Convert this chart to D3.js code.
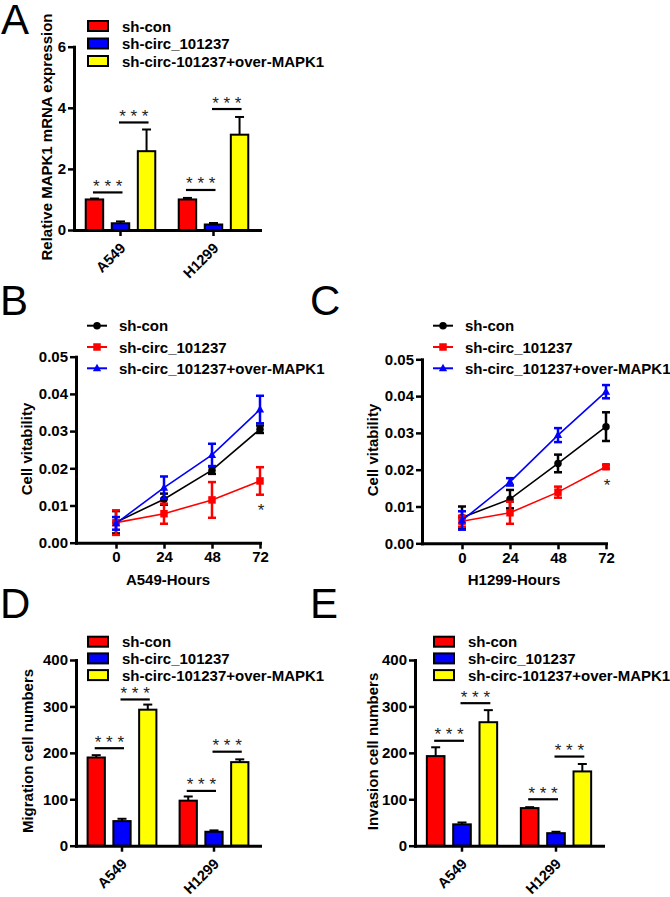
<!DOCTYPE html>
<html>
<head>
<meta charset="utf-8">
<script src="https://cdn.jsdelivr.net/npm/d3@7"></script>
<style>
  html, body { margin: 0; padding: 0; background: #fff; }
  svg { display: block; }
  text { font-family: "Liberation Sans", Arial, Helvetica, sans-serif; }
</style>
</head>
<body>
<svg id="chart" width="670" height="897"></svg>
<script>
// ---------------- DATA ----------------
const cellLines = ["A549", "H1299"];
const barSeries = ["sh-con", "sh-circ_101237", "sh-circ-101237+over-MAPK1"];
const lineSeries = ["sh-con", "sh-circ_101237", "sh-circ_101237+over-MAPK1"];
const hours = [0, 24, 48, 72];

// Panel A: relative MAPK1 mRNA expression  [cell line][series]
const mrnaMean = [[1.00, 0.22, 2.58], [1.00, 0.18, 3.12]];
const mrnaErr  = [[0.03, 0.06, 0.71], [0.05, 0.05, 0.58]];
const mrnaSigLevel = [[1.23, 3.52], [1.31, 3.96]];
const mrnaTicks = [0, 2, 4, 6];

// Panel B: A549 cell vitability
const a549Mean = [
  [0.0055, 0.0117, 0.0195, 0.0305],
  [0.0054, 0.0078, 0.0115, 0.0166],
  [0.0052, 0.0148, 0.0236, 0.0358]
];
const a549Err = [
  [0.0030, 0.0015, 0.0010, 0.0010],
  [0.0033, 0.0027, 0.0048, 0.0037],
  [0.0017, 0.0030, 0.0030, 0.0037]
];
// Panel C: H1299 cell vitability
const h1299Mean = [
  [0.0070, 0.0120, 0.0217, 0.0317],
  [0.0060, 0.0083, 0.0139, 0.0208],
  [0.0062, 0.0167, 0.0294, 0.0412]
];
const h1299Err = [
  [0.0030, 0.0025, 0.0024, 0.0039],
  [0.0015, 0.0030, 0.0015, 0.0005],
  [0.0025, 0.0010, 0.0019, 0.0018]
];
const vitTicks = [0, 0.01, 0.02, 0.03, 0.04, 0.05];

// Panel D: migration cell numbers
const migMean = [[190, 53, 293], [97, 30, 180]];
const migErr  = [[5, 5, 11], [9, 3, 6]];
const migSigLevel = [[210, 315], [118, 202.5]];
// Panel E: invasion cell numbers
const invMean = [[193, 46, 266], [81, 27, 160]];
const invErr  = [[19, 4, 26], [2, 3, 16]];
const invSigLevel = [[226, 307], [100, 192]];
const countTicks = [0, 100, 200, 300, 400];

// ---------------- STYLE ----------------
const barColors = ["#ff0000", "#0000ff", "#ffff00"];
const lineColors = ["#000000", "#ff0000", "#0000ff"];
const FONT = "'Liberation Sans', Arial, Helvetica, sans-serif";

const svg = d3.select("#chart");

function styleAxis(g) {
  g.select(".domain").attr("stroke", "#000").attr("stroke-width", 3).attr("stroke-linecap", "square");
  g.selectAll(".tick line").attr("stroke", "#000").attr("stroke-width", 2.5);
  g.selectAll(".tick text").attr("font-family", FONT).attr("font-weight", "bold")
    .attr("font-size", 15).attr("fill", "#000");
}

function panelLetter(t, x, y) {
  svg.append("text").attr("x", x).attr("y", y).attr("font-size", 42)
    .attr("font-family", FONT).attr("fill", "#000").text(t);
}

function yTitle(t, x, y) {
  svg.append("text").attr("transform", `translate(${x},${y}) rotate(-90)`)
    .attr("text-anchor", "middle").attr("font-size", 15).attr("font-weight", "bold")
    .attr("font-family", FONT).attr("fill", "#000").text(t);
}

function barPanel(cfg, means, errs, sigs, ticks) {
  const g = svg.append("g");
  const y = d3.scaleLinear().domain([0, ticks[ticks.length - 1]]).range([cfg.y0, cfg.yTop]);
  const xg = d3.scaleBand().domain(cellLines).range([cfg.x0, cfg.x1]);
  const xi = d3.scaleBand().domain(barSeries).range([0, xg.bandwidth()])
    .paddingInner(0.33).paddingOuter(0.45);
  const cx = (ci, si) => xg(cellLines[ci]) + xi(barSeries[si]) + xi.bandwidth() / 2;

  cellLines.forEach((cl, i) => {
    barSeries.forEach((s, j) => {
      const v = means[i][j], e = errs[i][j];
      const c = cx(i, j);
      g.append("line").attr("x1", c).attr("x2", c).attr("y1", y(v)).attr("y2", y(v + e))
        .attr("stroke", "#000").attr("stroke-width", 2);
      g.append("line").attr("x1", c - 4.5).attr("x2", c + 4.5).attr("y1", y(v + e)).attr("y2", y(v + e))
        .attr("stroke", "#000").attr("stroke-width", 2);
      g.append("rect").attr("x", xg(cl) + xi(s)).attr("y", y(v))
        .attr("width", xi.bandwidth()).attr("height", y(0) - y(v))
        .attr("fill", barColors[j]).attr("stroke", "#000").attr("stroke-width", 2);
    });
    [[0, 1], [1, 2]].forEach((pair, k) => {
      const lv = y(sigs[i][k]);
      const xa = cx(i, pair[0]) - 1.5, xb = cx(i, pair[1]) + 2;
      g.append("line").attr("x1", xa).attr("x2", xb).attr("y1", lv).attr("y2", lv)
        .attr("stroke", "#000").attr("stroke-width", 2.2);
      g.append("text").attr("x", (xa + xb) / 2).attr("y", lv - 0.5).attr("text-anchor", "middle")
        .attr("font-size", 17).attr("font-family", FONT).attr("fill", "#222")
        .text("* * *");
    });
  });

  const ya = g.append("g").attr("transform", `translate(${cfg.x0},0)`)
    .call(d3.axisLeft(y).tickValues(ticks).tickSize(6).tickSizeOuter(0).tickPadding(2).tickFormat(d3.format("d")));
  styleAxis(ya);
  const xa = g.append("g").attr("transform", `translate(0,${cfg.y0})`)
    .call(d3.axisBottom(xg).tickSize(6).tickSizeOuter(0));
  styleAxis(xa);
  xa.selectAll(".tick text")
    .attr("text-anchor", "end")
    .attr("font-size", 14.5)
    .attr("transform", "translate(6,19) rotate(-45)")
    .attr("y", 0).attr("dy", 0).attr("x", 0);

  barSeries.forEach((s, j) => {
    const ry = cfg.legY + j * cfg.legStep;
    g.append("rect").attr("x", cfg.legX).attr("y", ry - 5).attr("width", 20).attr("height", 10)
      .attr("fill", barColors[j]).attr("stroke", "#000").attr("stroke-width", 2);
    g.append("text").attr("x", cfg.legX + 34).attr("y", ry + 5.5)
      .attr("font-size", 15).attr("font-weight", "bold").attr("font-family", FONT)
      .attr("fill", "#000").text(s);
  });
}

function marker(g, j, x, y, size) {
  if (j === 0) {
    g.append("circle").attr("cx", x).attr("cy", y).attr("r", size / 2).attr("fill", lineColors[j]);
  } else if (j === 1) {
    g.append("rect").attr("x", x - size / 2).attr("y", y - size / 2).attr("width", size).attr("height", size)
      .attr("fill", lineColors[j]);
  } else {
    const h = size;
    g.append("path").attr("d", `M${x},${y - h * 0.6}L${x + h * 0.55},${y + h * 0.4}L${x - h * 0.55},${y + h * 0.4}Z`)
      .attr("fill", lineColors[j]);
  }
}

function linePanel(cfg, means, errs) {
  const g = svg.append("g");
  const x = d3.scaleLinear().domain([-20, 72]).range([cfg.x0, cfg.x1]);
  const y = d3.scaleLinear().domain([0, 0.05]).range([cfg.y0, cfg.yTop]);

  lineSeries.forEach((s, j) => {
    const pts = hours.map((h, k) => [h, means[j][k], errs[j][k]]);
    g.append("path").datum(pts)
      .attr("d", d3.line().x(d => x(d[0])).y(d => y(d[1])))
      .attr("fill", "none").attr("stroke", lineColors[j]).attr("stroke-width", 1.6);
    pts.forEach(d => {
      const px = x(d[0]);
      g.append("line").attr("x1", px).attr("x2", px).attr("y1", y(d[1] - d[2])).attr("y2", y(d[1] + d[2]))
        .attr("stroke", lineColors[j]).attr("stroke-width", 2.5);
      [d[1] - d[2], d[1] + d[2]].forEach(v => {
        g.append("line").attr("x1", px - 4).attr("x2", px + 4).attr("y1", y(v)).attr("y2", y(v))
          .attr("stroke", lineColors[j]).attr("stroke-width", 2.5);
      });
      marker(g, j, px, y(d[1]), 7.5);
    });
  });

  const ya = g.append("g").attr("transform", `translate(${cfg.x0},0)`)
    .call(d3.axisLeft(y).tickValues(vitTicks).tickSize(6).tickSizeOuter(0).tickPadding(2).tickFormat(d3.format(".2f")));
  styleAxis(ya);
  const xa = g.append("g").attr("transform", `translate(0,${cfg.y0})`)
    .call(d3.axisBottom(x).tickValues(hours).tickSize(6).tickSizeOuter(0).tickPadding(3).tickFormat(d3.format("d")));
  styleAxis(xa);

  g.append("text").attr("x", x(72) + 1).attr("y", cfg.starY).attr("text-anchor", "middle")
    .attr("font-size", 17).attr("font-family", FONT).attr("fill", "#222").text("*");

  svg.append("text").attr("x", cfg.titleX).attr("y", cfg.titleY).attr("text-anchor", "middle")
    .attr("font-size", 15).attr("font-weight", "bold").attr("font-family", FONT).attr("fill", "#000")
    .text(cfg.title);

  lineSeries.forEach((s, j) => {
    const ry = cfg.legY + j * cfg.legStep;
    g.append("line").attr("x1", cfg.legX).attr("x2", cfg.legX + 20).attr("y1", ry).attr("y2", ry)
      .attr("stroke", lineColors[j]).attr("stroke-width", 2);
    marker(g, j, cfg.legX + 10, ry, 7.5);
    g.append("text").attr("x", cfg.legX + 32).attr("y", ry + 5.5)
      .attr("font-size", 15).attr("font-weight", "bold").attr("font-family", FONT)
      .attr("fill", "#000").text(s);
  });
}

// ---------------- PANELS ----------------
panelLetter("A", 1, 34);
barPanel({x0: 74, x1: 260, y0: 230, yTop: 46.7, legX: 88, legY: 26, legStep: 17.5},
  mrnaMean, mrnaErr, mrnaSigLevel, mrnaTicks);
yTitle("Relative MAPK1 mRNA expression", 51.5, 137);

panelLetter("B", 0, 315);
linePanel({x0: 76, x1: 260, y0: 542.7, yTop: 356.7, legX: 87, legY: 325.7, legStep: 21.3,
  starY: 515.5, title: "A549-Hours", titleX: 168, titleY: 585}, a549Mean, a549Err);
yTitle("Cell vitability", 32, 449);

panelLetter("C", 310, 315);
linePanel({x0: 422, x1: 606, y0: 543.3, yTop: 359.3, legX: 433, legY: 325.7, legStep: 21.3,
  starY: 491, title: "H1299-Hours", titleX: 514, titleY: 585}, h1299Mean, h1299Err);
yTitle("Cell vitability", 377.5, 450);

panelLetter("D", 0, 618);
barPanel({x0: 76, x1: 260, y0: 845.7, yTop: 660, legX: 88, legY: 641.7, legStep: 16.7},
  migMean, migErr, migSigLevel, countTicks);
yTitle("Migration cell numbers", 33, 751);

panelLetter("E", 310, 618);
barPanel({x0: 415, x1: 603, y0: 845.7, yTop: 660, legX: 434, legY: 641.7, legStep: 16.7},
  invMean, invErr, invSigLevel, countTicks);
yTitle("Invasion cell numbers", 378, 751.5);
</script>
</body>
</html>
